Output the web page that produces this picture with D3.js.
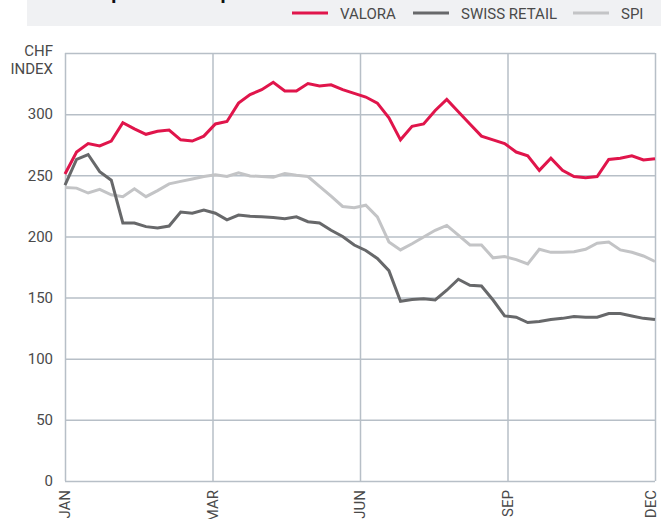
<!DOCTYPE html>
<html><head><meta charset="utf-8">
<script src="https://cdn.jsdelivr.net/npm/d3@7"></script>
<style>
html,body{margin:0;padding:0;background:#fff;}
svg{display:block;font-family:Roboto, "Noto Sans", sans-serif;}
</style></head>
<body>
<svg id="chart" width="661" height="519"></svg>
<script>
const titleText = "Share price development";
const seriesNames = ["VALORA", "SWISS RETAIL", "SPI"];
const monthLabels = ["JAN", "MAR", "JUN", "SEP", "DEC"];
const yTicks = [0, 50, 100, 150, 200, 250, 300, 350];
const yUnitLabel = ["CHF", "INDEX"];

const valora = [251,269,276,274,278,293,288,283.5,286,287,279,278,282,292,294,309,316,320,326,319,319,325,323,324,320,317,314,309,297,279,290,292,303,312,302,292,282,279,276,269,266,254,264,254,249,248,249,263,264,266,262.5,263.5];
const swissRetail = [242,263,267,253,246,211,211,208,207,208.5,220,219,221.5,219,213.5,217.5,216.5,216,215.5,214.5,216,212,211,205,200,193,188.5,182,172,147,148.5,149,148,156,165,160,159.5,148,135,134,129.6,130.5,132,133,134.5,134,134,137,137,135,133,132];
const spi = [240,239.5,235.5,238.5,234,232.5,239,232.5,237.5,243,245,247,249,250.5,249,252,249.5,249,248.5,251.5,250,249,241,233,224.5,223.5,225.5,216,195.5,189,194,199.5,205,209,201,193,193,182.5,183.5,181,177.5,189.5,187,187,187.5,189.5,194.5,195.5,189,187,184,179.5];

const colors = ["#e0154b", "#67686a", "#c3c4c6"];
const series = [valora, swissRetail, spi];

const svg = d3.select("#chart");
const W = 661, H = 519;
const m = {left: 65, right: 6, top: 53, bottom: 38};
const n = valora.length;

const x = d3.scaleLinear().domain([0, n - 1]).range([m.left, W - m.right]);
const y = d3.scaleLinear().domain([0, 350]).range([H - m.bottom, m.top]);
const monthPos = monthLabels.map((d, i) => i * (n - 1) / (monthLabels.length - 1));

// header band
svg.append("rect").attr("x", 27).attr("y", 0).attr("width", W - 27).attr("height", 26).attr("fill", "#f0f1f3");
svg.append("text").attr("x", 54).attr("y", -1).attr("font-size", 20).attr("font-weight", 700)
  .attr("fill", "#111").text(titleText);

// legend
const legX = [292, 413, 573];
const leg = svg.append("g");
seriesNames.forEach((name, i) => {
  leg.append("line").attr("x1", legX[i]).attr("x2", legX[i] + 36).attr("y1", 13).attr("y2", 13)
    .attr("stroke", colors[i]).attr("stroke-width", 3);
  leg.append("text").attr("x", legX[i] + 48).attr("y", 18.5).attr("font-size", 15)
    .attr("fill", "#4a4a4a").text(name);
});

const gridColor = "#b7bfc7";
// horizontal grid
const yAxis = d3.axisLeft(y).tickValues(yTicks).tickSize(-(W - m.right - m.left)).tickPadding(12)
  .tickFormat(d => d === 350 ? "" : d);
const gy = svg.append("g").attr("transform", `translate(${m.left},0)`).call(yAxis);
gy.select(".domain").remove();
gy.selectAll(".tick line").attr("stroke", gridColor).attr("stroke-width", 1.5);
gy.selectAll(".tick text").attr("font-size", 15).attr("fill", "#4a4a4a").attr("font-family", "Roboto, sans-serif");

// vertical grid
const xAxis = d3.axisBottom(x).tickValues(monthPos).tickSize(-(H - m.bottom - m.top)).tickFormat("");
const gx = svg.append("g").attr("transform", `translate(0,${H - m.bottom})`).call(xAxis);
gx.select(".domain").remove();
gx.selectAll(".tick line").attr("stroke", gridColor).attr("stroke-width", 1.5);

// x labels rotated
monthLabels.forEach((lab, i) => {
  const px = Math.min(x(monthPos[i]), W - 10);
  svg.append("text")
    .attr("transform", `translate(${px},${H - m.bottom + 9}) rotate(-90)`)
    .attr("text-anchor", "end").attr("dy", "0.35em")
    .attr("font-size", 15).attr("fill", "#4a4a4a").text(lab);
});

// unit label
yUnitLabel.forEach((t, i) => {
  svg.append("text").attr("x", 53).attr("y", 56 + i * 18).attr("text-anchor", "end")
    .attr("font-size", 15).attr("fill", "#4a4a4a").text(t);
});

// lines (draw SPI first, then retail, then valora)
const line = d3.line().x((d, i) => x(i)).y(d => y(d)).curve(d3.curveLinear);
[2, 1, 0].forEach(k => {
  svg.append("path").datum(series[k]).attr("d", line)
    .attr("fill", "none").attr("stroke", colors[k]).attr("stroke-width", 3)
    .attr("stroke-linejoin", "miter").attr("stroke-linecap", "butt");
});
</script>
</body></html>
